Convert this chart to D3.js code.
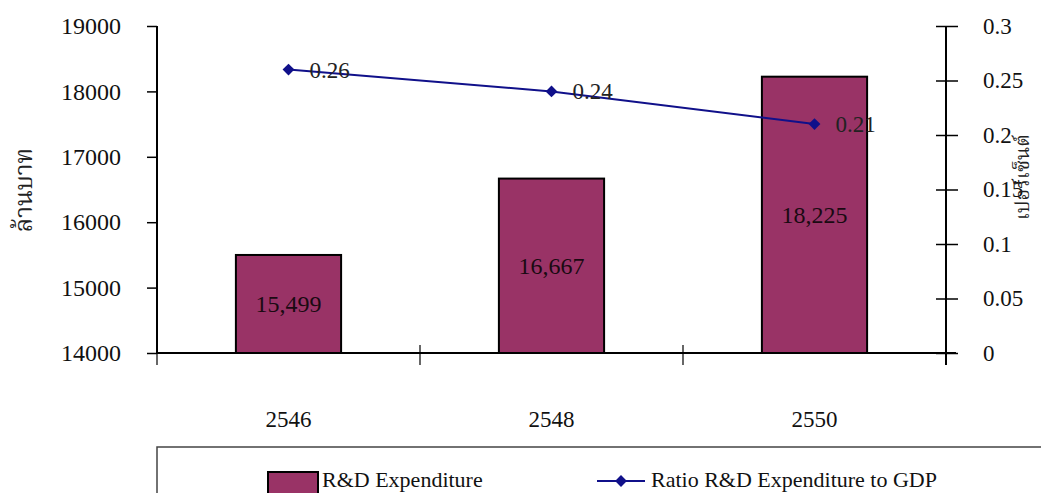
<!DOCTYPE html>
<html>
<head>
<meta charset="utf-8">
<script src="https://cdn.jsdelivr.net/npm/d3@7"></script>
<style>
  html, body { margin: 0; padding: 0; background: #fff; }
  svg { display: block; }
  .thai { font-family: "Noto Serif Thai", "Noto Sans Thai", "Loma", "Garuda", "Tlwg Typo", "Liberation Serif", sans-serif; }
</style>
</head>
<body>
<svg id="chart" width="1041" height="493"></svg>
<script>
// R&D expenditure (million baht) and its ratio to GDP (%), by Thai fiscal year
const categories = ["2546", "2548", "2550"];
const expenditure = [15499, 16667, 18225];
const ratioToGDP = [0.26, 0.24, 0.21];
const leftTicks = [14000, 15000, 16000, 17000, 18000, 19000];
const rightTicks = [0, 0.05, 0.1, 0.15, 0.2, 0.25, 0.3];
const barSeriesName = "R&D Expenditure";
const lineSeriesName = "Ratio R&D Expenditure to GDP";
const leftTitle = "ล้านบาท";
const rightTitle = "เปอร์เซ็นต์";

const svg = d3.select("#chart");
const plot = { left: 157, right: 946, top: 26, bottom: 353 };
const barFill = "#993366";
const lineColor = "#10108a";
const fontSize = 23;
const serif = "Liberation Serif, Times New Roman, serif";

const x = d3.scaleBand().domain(categories).range([plot.left, plot.right]).paddingInner(0).paddingOuter(0);
const yL = d3.scaleLinear().domain([14000, 19000]).range([plot.bottom, plot.top]);
const yR = d3.scaleLinear().domain([0, 0.3]).range([plot.bottom, plot.top]);
const bw = x.bandwidth();

// Bars
svg.append("g").selectAll("rect")
  .data(expenditure)
  .join("rect")
  .attr("x", (d, i) => x(categories[i]) + bw * 0.3)
  .attr("width", bw * 0.4)
  .attr("y", d => yL(d))
  .attr("height", d => yL(yL.domain()[0]) - yL(d))
  .attr("fill", barFill)
  .attr("stroke", "#000")
  .attr("stroke-width", 2);

// Bar value labels, centred inside each bar
const fmt = d3.format(",");
svg.append("g").selectAll("text")
  .data(expenditure)
  .join("text")
  .attr("font-family", serif)
  .attr("x", (d, i) => x(categories[i]) + bw / 2)
  .attr("y", d => (yL(d) + yL(yL.domain()[0])) / 2)
  .attr("dy", "0.35em")
  .attr("text-anchor", "middle")
  .attr("font-size", 24)
  .attr("fill", "#1a0a12")
  .text(d => fmt(d));

// Left axis
const gL = svg.append("g")
  .attr("transform", `translate(${plot.left},0)`)
  .call(d3.axisLeft(yL).tickValues(leftTicks).tickSize(10).tickPadding(26).tickFormat(d => String(d)));
gL.select(".domain").attr("stroke", "#000").attr("stroke-width", 2).attr("d", `M0,${plot.top}V${plot.bottom}`);
gL.selectAll(".tick line").attr("stroke", "#000").attr("stroke-width", 1.5).attr("x2", 0).attr("x1", -10);
gL.selectAll(".tick text").attr("font-size", 24).attr("fill", "#111").attr("font-family", serif);

// Right axis
const gR = svg.append("g")
  .attr("transform", `translate(${plot.right},0)`)
  .call(d3.axisRight(yR).tickValues(rightTicks).tickSize(12).tickPadding(25).tickFormat(d => String(+d.toFixed(2))));
gR.select(".domain").attr("stroke", "#000").attr("stroke-width", 2).attr("d", `M0,${plot.top}V${plot.bottom + 12}`);
gR.selectAll(".tick line").attr("stroke", "#000").attr("stroke-width", 1.5).attr("x1", -10);
gR.selectAll(".tick text").attr("font-size", fontSize).attr("fill", "#111").attr("font-family", serif);

// Category axis: baseline, boundary ticks and centred year labels
const gB = svg.append("g")
  .attr("transform", `translate(0,${plot.bottom})`)
  .call(d3.axisBottom(x).tickSize(0).tickPadding(58));
gB.select(".domain").attr("stroke", "#000").attr("stroke-width", 2).attr("d", `M${plot.left},0H${plot.right + 10}`);
gB.selectAll(".tick text").attr("font-size", fontSize).attr("fill", "#111").attr("font-family", serif);
const boundaries = categories.map(c => x(c)).concat([x.range()[1]]);
svg.append("g").selectAll("line")
  .data(boundaries)
  .join("line")
  .attr("x1", d => d).attr("x2", d => d)
  .attr("y1", plot.bottom - 8).attr("y2", plot.bottom + 12)
  .attr("stroke", "#000").attr("stroke-width", 1.2);

// Ratio line with diamond markers
const pts = ratioToGDP.map((v, i) => [x(categories[i]) + bw / 2, yR(v)]);
svg.append("path")
  .attr("d", d3.line()(pts))
  .attr("fill", "none")
  .attr("stroke", lineColor)
  .attr("stroke-width", 2);
svg.append("g").selectAll("path")
  .data(pts)
  .join("path")
  .attr("transform", d => `translate(${d[0]},${d[1]}) rotate(45)`)
  .attr("d", d3.symbol(d3.symbolSquare, 70)())
  .attr("fill", lineColor);
svg.append("g").selectAll("text")
  .data(ratioToGDP)
  .join("text")
  .attr("font-family", serif)
  .attr("x", (d, i) => pts[i][0] + 21)
  .attr("y", (d, i) => pts[i][1])
  .attr("dy", "0.35em")
  .attr("font-size", fontSize)
  .attr("fill", "#222")
  .text(d => d.toFixed(2));

// Axis titles
svg.append("text")
  .attr("class", "thai")
  .attr("transform", "translate(24,190) rotate(-90)")
  .attr("text-anchor", "middle")
  .attr("dy", "0.35em")
  .attr("font-size", 24)
  .attr("fill", "#222")
  .text(leftTitle);
svg.append("text")
  .attr("class", "thai")
  .attr("transform", "translate(1022,177) rotate(-90)")
  .attr("text-anchor", "middle")
  .attr("dy", "0.35em")
  .attr("font-size", 20)
  .attr("fill", "#222")
  .text(rightTitle);

// Legend
const lg = svg.append("g");
lg.append("rect")
  .attr("x", plot.left).attr("y", 447)
  .attr("width", 1000).attr("height", 80)
  .attr("fill", "#fff").attr("stroke", "#444").attr("stroke-width", 1.5);
lg.append("rect")
  .attr("x", 268).attr("y", 472).attr("width", 50).attr("height", 30)
  .attr("fill", barFill).attr("stroke", "#000").attr("stroke-width", 2);
lg.append("text")
  .attr("font-family", serif)
  .attr("x", 322).attr("y", 487)
  .attr("font-size", 22).attr("fill", "#111")
  .text(barSeriesName);
lg.append("line")
  .attr("x1", 597).attr("x2", 645).attr("y1", 481).attr("y2", 481)
  .attr("stroke", lineColor).attr("stroke-width", 2);
lg.append("path")
  .attr("transform", "translate(621,481) rotate(45)")
  .attr("d", d3.symbol(d3.symbolSquare, 70)())
  .attr("fill", lineColor);
lg.append("text")
  .attr("font-family", serif)
  .attr("x", 651).attr("y", 487)
  .attr("font-size", 22).attr("fill", "#111")
  .text(lineSeriesName);
</script>
</body>
</html>
